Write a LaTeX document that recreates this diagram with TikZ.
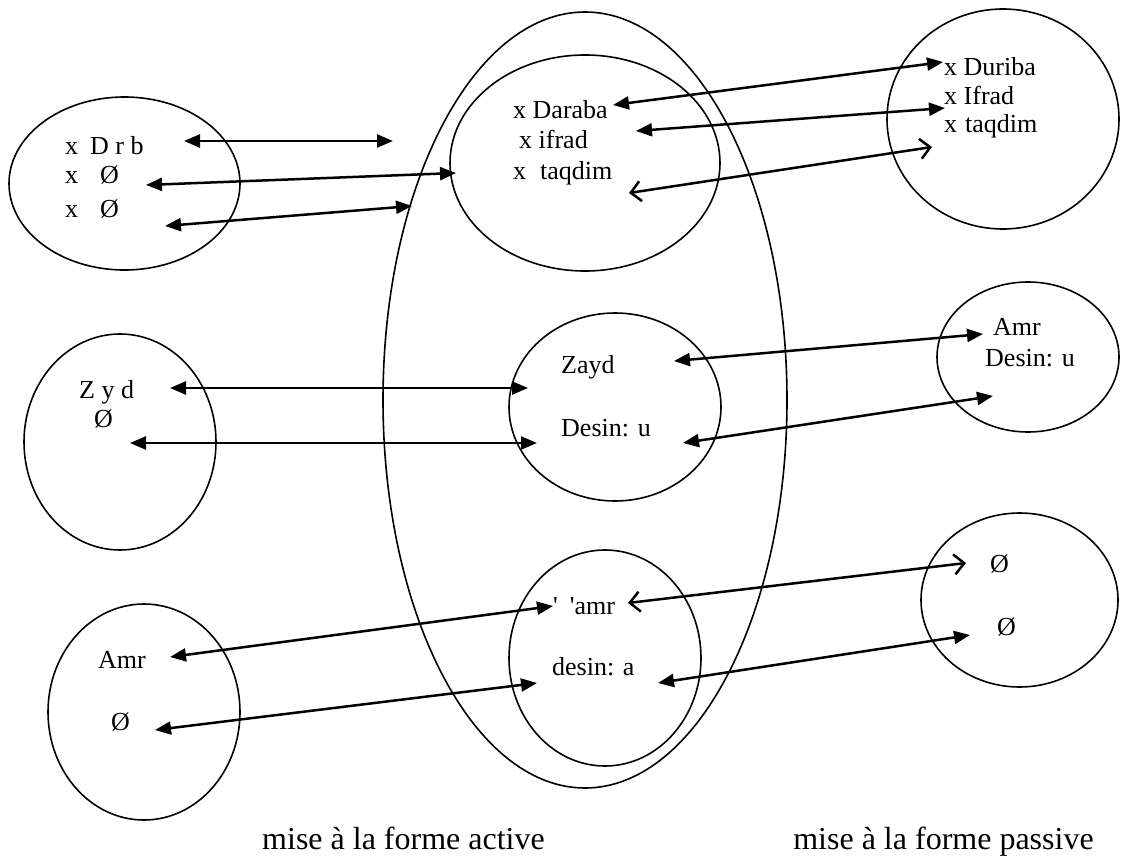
\documentclass[tikz,border=0pt]{standalone}
\usepackage{fontspec}
\setmainfont{Liberation Serif}
\usetikzlibrary{arrows.meta,shapes.geometric}
\begin{document}
\begin{tikzpicture}[x=1pt,y=-1pt,
  elli/.style n args={2}{draw, ellipse, line width=1.6pt, minimum width=#1, minimum height=#2, inner sep=0pt},
  lbl/.style={inner sep=0pt, anchor=base west, font=\fontsize{26}{30}\selectfont},
  captext/.style={inner sep=0pt, anchor=base, font=\fontsize{32}{36}\selectfont},
  link/.style={line width=2.5pt, {Triangle[length=16pt,width=13pt]}-{Triangle[length=16pt,width=13pt]}},
  openlink/.style={line width=2.5pt, {Straight Barb[length=10pt,width=20pt]}-{Straight Barb[length=10pt,width=20pt]}}]
\useasboundingbox (0,0) rectangle (1125,856);
\fill[white] (0,0) rectangle (1125,856);

% sets
\node[elli={231pt}{173pt}] (e1) at (124.5,183.5) {};
\node[elli={404pt}{776pt}] (big) at (585,400) {};
\node[elli={270pt}{216pt}] (e3) at (585,163) {};
\node[elli={232pt}{220pt}] (e4) at (1003,119) {};
\node[elli={192pt}{216pt}] (e5) at (120,442) {};
\node[elli={212pt}{188pt}] (e6) at (615,407) {};
\node[elli={182pt}{150pt}] (e7) at (1028,357) {};
\node[elli={192pt}{216pt}] (e8) at (144,712) {};
\node[elli={192pt}{216pt}] (e9) at (605,658) {};
\node[elli={197pt}{174pt}] (e10) at (1019.5,600) {};

% texts
\node[lbl] (t1) at (65,155) {x\hspace{12pt}D r b};
\node[lbl] (t2) at (65,184) {x\hspace{22pt}Ø};
\node[lbl] (t3) at (65,217) {x\hspace{22pt}Ø};

\node[lbl] (t4) at (513,119) {x Daraba};
\node[lbl] (t5) at (519,149) {x ifrad};
\node[lbl] (t6) at (513,179) {x\hspace{14pt}taqdim};

\node[lbl] (t7) at (944,76) {x Duriba};
\node[lbl] (t8) at (944,105) {x Ifrad};
\node[lbl] (t9) at (944,133) {x\hspace{8pt}taqdim};

\node[lbl] (t10) at (79,398) {Z y d};
\node[lbl] (t11) at (94,427) {Ø};

\node[lbl] (t12) at (561,373) {Zayd};
\node[lbl] (t13) at (561,436) {Desin: u};

\node[lbl] (t14) at (993,335) {Amr};
\node[lbl] (t15) at (985,366) {Desin: u};

\node[lbl] (t16) at (98,668) {Amr};
\node[lbl] (t17) at (111,730) {Ø};

\node[lbl] (t18) at (553,614) {\textquotesingle\hspace{12pt}\textquotesingle amr};
\node[lbl] (t19) at (552,675) {desin: a};

\node[lbl] (t20) at (990,572) {Ø};
\node[lbl] (t21) at (997,635) {Ø};

\node[captext] (c1) at (403.5,849) {mise à la forme active};
\node[captext] (c2) at (943.5,849) {mise à la forme passive};

% connector end points
\coordinate (a1l) at (184,141);  \coordinate (a1r) at (393,141);
\coordinate (a2l) at (146,185);  \coordinate (a2r) at (456,173);
\coordinate (a3l) at (165,226);  \coordinate (a3r) at (412,206);
\coordinate (a4l) at (613,105);  \coordinate (a4r) at (943,62);
\coordinate (a5l) at (636,131);  \coordinate (a5r) at (945,108);
\coordinate (a6l) at (629,193);  \coordinate (a6r) at (932,147);
\coordinate (a7l) at (170,388);  \coordinate (a7r) at (528,388);
\coordinate (a8l) at (130,443);  \coordinate (a8r) at (537,443);
\coordinate (a9l) at (674,361);  \coordinate (a9r) at (983,334);
\coordinate (a10l) at (683,443); \coordinate (a10r) at (993,396);
\coordinate (a11l) at (170,657); \coordinate (a11r) at (553,606);
\coordinate (a12l) at (155,730); \coordinate (a12r) at (537,683);
\coordinate (a13l) at (628,603); \coordinate (a13r) at (966,563);
\coordinate (a14l) at (658,683); \coordinate (a14r) at (970,635);

\draw[link] (a1l) -- (a1r);
\draw[link] (a2l) -- (a2r);
\draw[link] (a3l) -- (a3r);
\draw[link] (a4l) -- (a4r);
\draw[link] (a5l) -- (a5r);
\draw[openlink] (a6l) -- (a6r);
\draw[link] (a7l) -- (a7r);
\draw[link] (a8l) -- (a8r);
\draw[link] (a9l) -- (a9r);
\draw[link] (a10l) -- (a10r);
\draw[link] (a11l) -- (a11r);
\draw[link] (a12l) -- (a12r);
\draw[openlink] (a13l) -- (a13r);
\draw[link] (a14l) -- (a14r);
\end{tikzpicture}
\end{document}
